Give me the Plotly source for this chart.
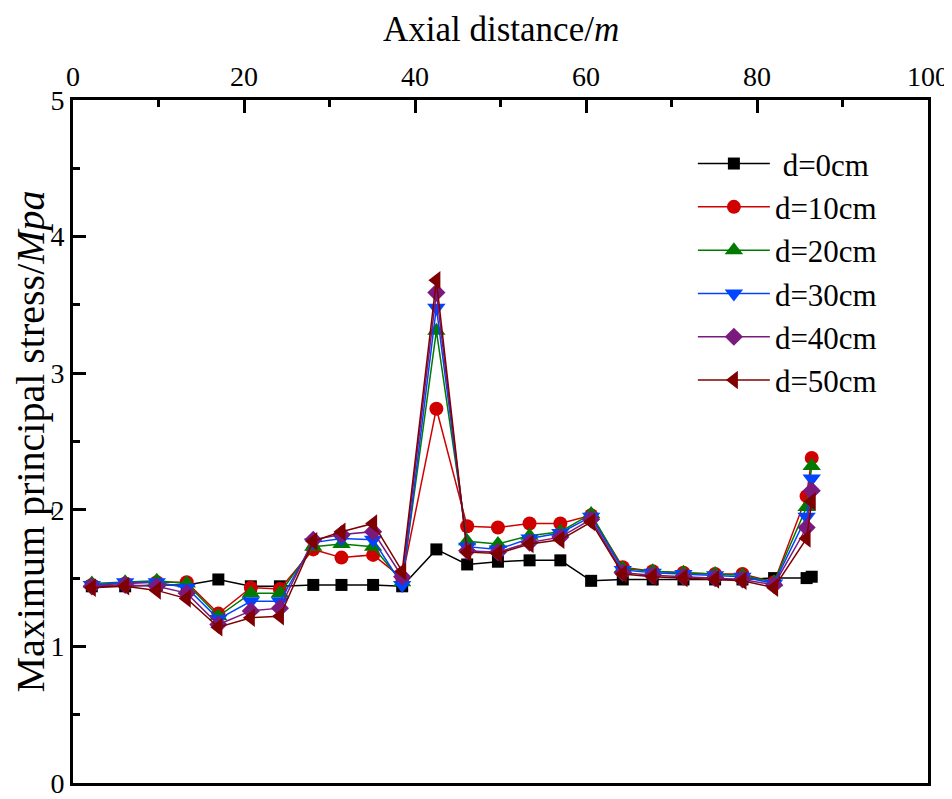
import plotly.graph_objects as go

# axial positions (m)
distancia = [2.2, 6.1, 9.8, 13.3, 17.0, 20.8, 24.2, 28.1, 31.4, 35.1, 38.5, 42.5,
             46.1, 49.7, 53.4, 57.0, 60.6, 64.3, 67.8, 71.4, 75.1, 78.3, 82.0, 85.8, 86.4]

# maximum principal stress (MPa) per buried depth
d0 = [1.44, 1.44, 1.45, 1.45, 1.49, 1.44, 1.44, 1.45, 1.45, 1.45, 1.44, 1.71,
      1.60, 1.62, 1.63, 1.63, 1.48, 1.49, 1.49, 1.49, 1.49, 1.49, 1.50, 1.50, 1.51]
d10 = [1.45, 1.46, 1.47, 1.47, 1.24, 1.43, 1.42, 1.71, 1.65, 1.67, 1.50, 2.74,
       1.88, 1.87, 1.90, 1.90, 1.96, 1.58, 1.55, 1.54, 1.53, 1.53, 1.47, 2.10, 2.38]
d20 = [1.46, 1.47, 1.48, 1.46, 1.22, 1.39, 1.39, 1.73, 1.75, 1.73, 1.47, 3.31,
       1.77, 1.75, 1.81, 1.84, 1.97, 1.57, 1.55, 1.54, 1.53, 1.52, 1.47, 2.02, 2.32]
d30 = [1.45, 1.47, 1.47, 1.43, 1.20, 1.33, 1.33, 1.76, 1.79, 1.78, 1.45, 3.48,
       1.73, 1.71, 1.79, 1.83, 1.95, 1.56, 1.54, 1.53, 1.52, 1.51, 1.46, 1.95, 2.23]
d40 = [1.44, 1.45, 1.44, 1.39, 1.16, 1.26, 1.28, 1.78, 1.82, 1.84, 1.51, 3.59,
       1.70, 1.69, 1.76, 1.80, 1.93, 1.54, 1.52, 1.51, 1.50, 1.49, 1.45, 1.87, 2.14]
d50 = [1.43, 1.44, 1.41, 1.35, 1.14, 1.21, 1.22, 1.77, 1.84, 1.90, 1.55, 3.68,
       1.69, 1.68, 1.75, 1.78, 1.91, 1.53, 1.51, 1.50, 1.49, 1.48, 1.43, 1.79, 2.06]

series = [
    ("\u00a0d=0cm", d0, "#000000", "square", 12),
    ("d=10cm", d10, "#D10000", "circle", 14),
    ("d=20cm", d20, "#007A00", "triangle-up", 16),
    ("d=30cm", d30, "#0044FF", "triangle-down", 16),
    ("d=40cm", d40, "#7A1A7F", "diamond", 14),
    ("d=50cm", d50, "#7F0000", "triangle-left", 16),
]

fuente = "Liberation Serif, Times New Roman, serif"

fig = go.Figure()
for nombre, valores, color, simbolo, tam in series:
    fig.add_trace(go.Scatter(
        x=distancia, y=valores, name=nombre, mode="lines+markers",
        line=dict(color=color, width=1.5),
        marker=dict(symbol=simbolo, size=tam, color=color, line=dict(width=0))))

# the page body adds 8px around the figure, so it is drawn 8px smaller
fig.update_layout(
    width=944, height=791,
    margin=dict(l=65, r=24, t=92, b=16),
    plot_bgcolor="white", paper_bgcolor="white",
    font=dict(family=fuente, color="black", size=28),
    showlegend=True,
    legend=dict(x=0.725, y=0.946, xanchor="left", yanchor="top",
                font=dict(size=31), bgcolor="rgba(0,0,0,0)",
                tracegroupgap=0, itemwidth=72),
    annotations=[
        dict(text="Axial distance/<i>m</i>", xref="paper", yref="paper",
             x=0.5, y=1.135, xanchor="center", yanchor="top",
             showarrow=False, font=dict(size=35)),
    ])

fig.update_xaxes(
    range=[0, 100], side="top", dtick=20, showgrid=False, zeroline=False,
    showline=True, linewidth=3, linecolor="black", mirror=True, automargin=False,
    ticks="inside", ticklen=13, tickwidth=3, tickcolor="black",
    ticklabeloverflow="allow",
    minor=dict(ticks="inside", ticklen=7, tickwidth=3, dtick=10, tickcolor="black"))
fig.update_yaxes(
    range=[0, 5], dtick=1, showgrid=False, zeroline=False,
    showline=True, linewidth=3, linecolor="black", mirror=True, automargin=False,
    ticks="inside", ticklen=13, tickwidth=3, tickcolor="black",
    ticklabeloverflow="allow",
    minor=dict(ticks="inside", ticklen=7, tickwidth=3, dtick=0.5, tickcolor="black"),
    title=dict(text="Maximum principal stress/<i>Mpa</i>", font=dict(size=40), standoff=0))

fig.write_html("out.html")
